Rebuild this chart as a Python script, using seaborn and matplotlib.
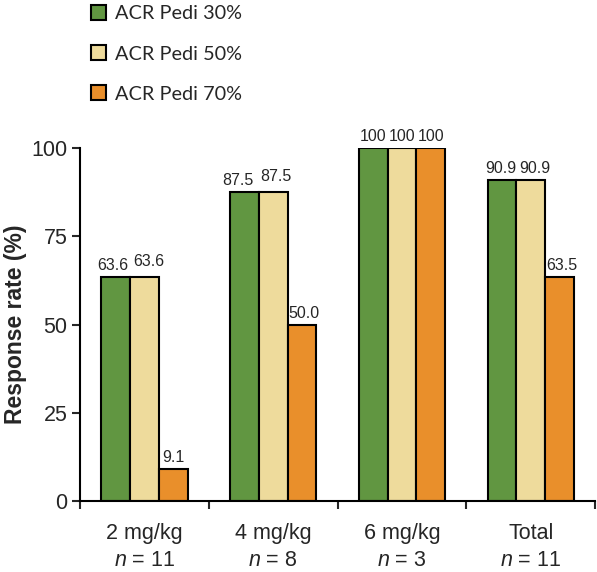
import pandas as pd
import matplotlib.pyplot as plt
import seaborn as sns

# data
groups = ["2 mg/kg", "4 mg/kg", "6 mg/kg", "Total"]
group_n = [11, 8, 3, 11]
series = ["ACR Pedi 30%", "ACR Pedi 50%", "ACR Pedi 70%"]
acr30 = [63.6, 87.5, 100, 90.9]
acr50 = [63.6, 87.5, 100, 90.9]
acr70 = [9.1, 50.0, 100, 63.5]
bar_text = [
    ["63.6", "87.5", "100", "90.9"],
    ["63.6", "87.5", "100", "90.9"],
    ["9.1", "50.0", "100", "63.5"],
]
colors = ["#619641", "#eedb9c", "#e98f2b"]

# nudges (pixels) so neighbouring value labels don't collide
label_nudge = [
    [(-3, 0), (-7, 0), (0, 0), (-1, 0)],
    [(4, 4), (3, 4), (0, 0), (4, 0)],
    [(0, 0), (2, 0), (0, 0), (2, 0)],
]

rows = []
for s, vals in zip(series, [acr30, acr50, acr70]):
    for g, v in zip(groups, vals):
        rows.append({"group": g, "series": s, "value": v})
df = pd.DataFrame(rows)

sns.set_style("white")
plt.rcParams["font.family"] = "sans-serif"
plt.rcParams["font.sans-serif"] = ["Liberation Sans", "DejaVu Sans"]
plt.rcParams["mathtext.fontset"] = "custom"
plt.rcParams["mathtext.it"] = "Liberation Sans:italic"
plt.rcParams["mathtext.rm"] = "Liberation Sans"

fig = plt.figure(figsize=(5.97, 5.72), dpi=100)
ax = fig.add_axes([0.134, 0.124, 0.863, 0.617])

sns.barplot(data=df, x="group", y="value", hue="series", order=groups,
            hue_order=series, palette=colors, width=0.67, saturation=1,
            edgecolor="black", linewidth=1.5, ax=ax, legend=False)

# value labels on top of the bars
for cont, labs, nudges in zip(ax.containers, bar_text, label_nudge):
    for bar, lab, (dx, dy) in zip(cont.patches, labs, nudges):
        ax.annotate(lab, (bar.get_x() + bar.get_width() / 2, bar.get_height()),
                    xytext=(dx, 4 + dy), textcoords="offset pixels",
                    ha="center", va="bottom", fontsize=11.5, annotation_clip=False)

ax.set_xlim(-0.5, 3.5)
ax.set_ylim(0, 100)
ax.set_yticks([0, 25, 50, 75, 100])
ax.tick_params(axis="y", labelsize=15.5, length=6, width=1.5, direction="out", left=True, pad=3)
ax.set_xticks(range(4))
ax.set_xticklabels([f"{g}\n$n$ = {n}" for g, n in zip(groups, group_n)], fontsize=15.5, linespacing=1.35)
ax.tick_params(axis="x", length=0, pad=16)
ax.set_xticks([-0.5, 0.5, 1.5, 2.5, 3.5], minor=True)
ax.tick_params(axis="x", which="minor", length=6, width=1.5, direction="out", bottom=True)

for side in ["top", "right"]:
    ax.spines[side].set_visible(False)
for side in ["left", "bottom"]:
    ax.spines[side].set_linewidth(1.5)
    ax.spines[side].set_color("black")

ax.set_xlabel("")
ax.set_ylabel("Response rate (%)", fontsize=16.5, fontweight="bold", labelpad=3)

handles = [plt.Rectangle((0, 0), 1, 1, facecolor=c, edgecolor="black", linewidth=1.5) for c in colors]
fig.legend(handles, series, loc="upper left", bbox_to_anchor=(0.122, 1.022), frameon=False,
           prop={"family": "Lato", "size": 14.3}, handlelength=0.75, handleheight=0.75,
           labelspacing=1.15, handletextpad=0.45)

plt.savefig("out.png", dpi=100)
